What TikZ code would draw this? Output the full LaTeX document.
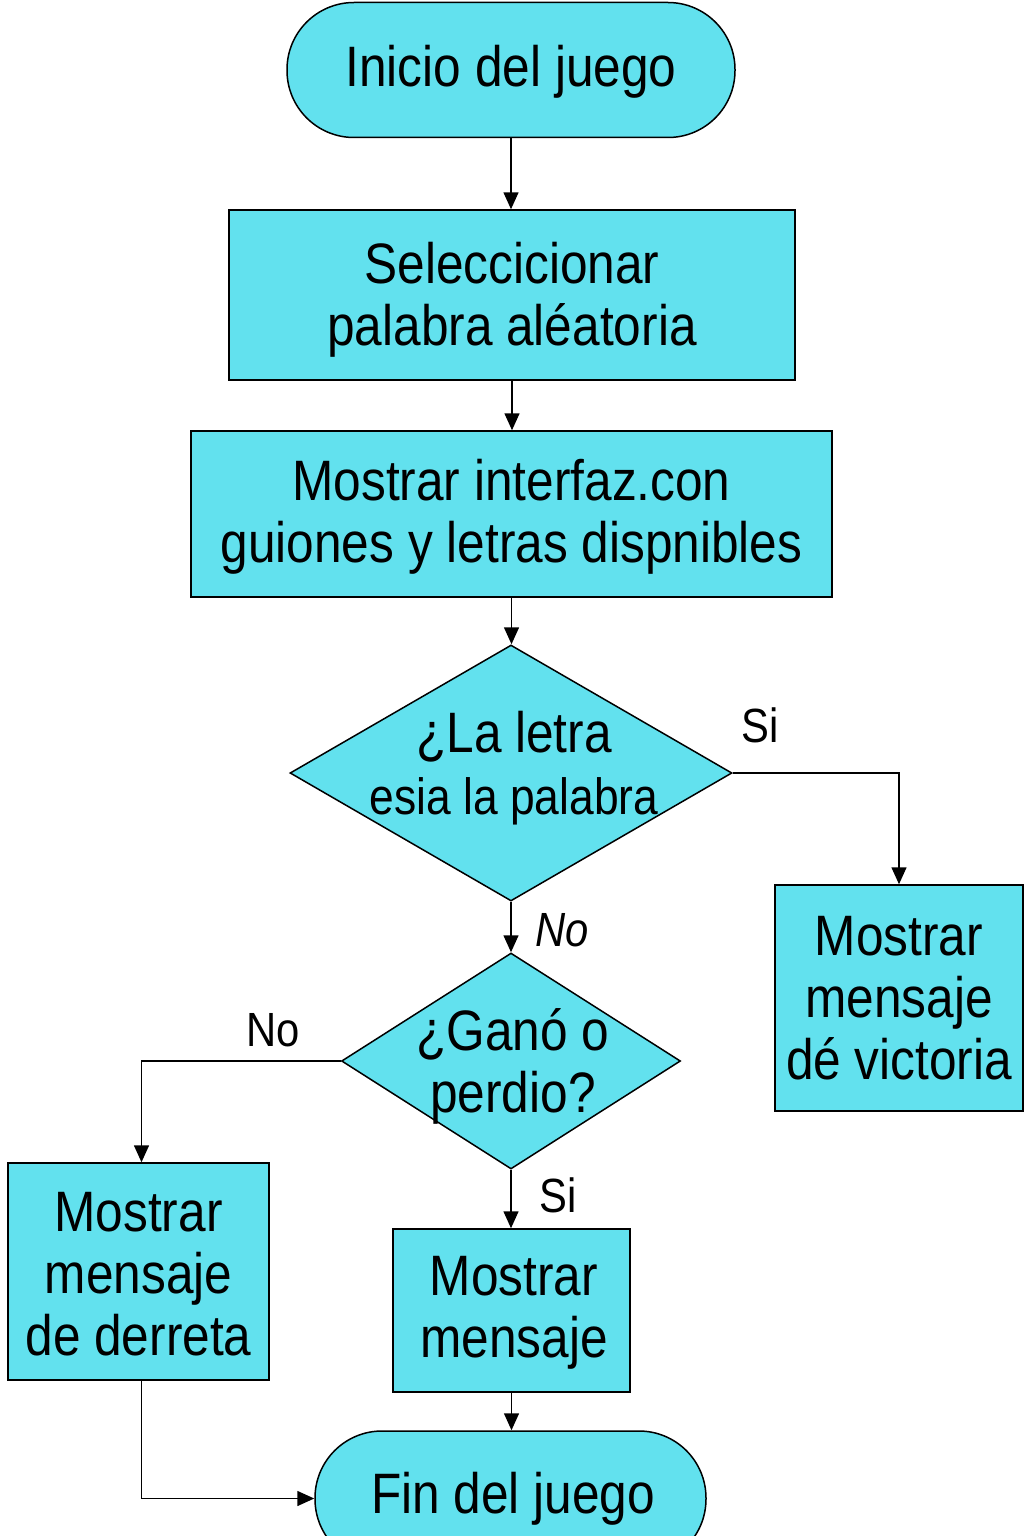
\documentclass[tikz,border=0pt]{standalone}
\usepackage{fontspec}
\setmainfont{Liberation Sans}[FakeStretch=0.87]
\usetikzlibrary{shapes.geometric,arrows.meta}
\definecolor{boxfill}{RGB}{98,225,238}
\begin{document}
\begin{tikzpicture}[x=1pt,y=-1pt,
  box/.style={draw=black, line width=1.5pt, fill=boxfill, inner sep=0pt, align=center, font=\fontsize{57}{62}\selectfont},
  dia/.style={draw=black, line width=1.5pt, fill=boxfill, diamond, inner sep=0pt},
  txt/.style={font=\fontsize{57}{62}\selectfont, align=center, inner sep=0pt},
  conn/.style={line width=1.5pt, -{Triangle[length=17pt,width=15pt]}},
  lab/.style={font=\fontsize{48}{52}\selectfont, inner sep=0pt}]
\useasboundingbox (0,0) rectangle (1024,1536);
\clip (0,0) rectangle (1024,1536);
\fill[white] (0,0) rectangle (1024,1536);

\node[box, rounded corners=67pt, minimum width=448pt, minimum height=135pt] (start) at (511,70) {};
\node[txt] (startt) at (511,72) {Inicio del juego};
\node[box, minimum width=566pt, minimum height=170pt] (box1) at (512,295) {};
\node[txt] (box1t) at (512,300) {Seleccicionar\\palabra aléatoria};
\node[box, minimum width=641pt, minimum height=166pt] (box2) at (511.5,514) {};
\node[txt] (box2t) at (511.5,517) {Mostrar interfaz.con\\guiones y letras dispnibles};
\node[dia, minimum width=442pt, minimum height=256pt] (d1) at (511,773) {};
\node[txt] (d1t) at (514,768) {¿La letra\\{\fontsize{51}{60}\selectfont esia la palabra}};
\node[box, minimum width=248pt, minimum height=226pt] (box3) at (899,998) {Mostrar\\mensaje\\dé victoria};
\node[dia, minimum width=339pt, minimum height=216pt] (d2) at (511,1061) {};
\node[txt] (d2t) at (513,1066) {¿Ganó o\\perdio?};
\node[box, minimum width=261pt, minimum height=217pt] (box4) at (138.5,1271.5) {};
\node[txt] (box4t) at (138.5,1274) {Mostrar\\mensaje\\de derreta};
\node[box, minimum width=237pt, minimum height=163pt] (box5) at (511.5,1310.5) {};
\node[txt] (box5t) at (514,1313) {Mostrar\\mensaje};
\node[box, rounded corners=67pt, minimum width=391pt, minimum height=135pt] (end) at (510.5,1498.5) {};
\node[txt] (endt) at (513,1499) {Fin del juego};

\draw[conn] (start.south) -- (start.south |- box1.north);
\draw[conn] (box1.south) -- (box1.south |- box2.north);
\draw[conn] (box2.south) -- (box2.south |- d1.north);
\draw[conn] (d1.east) -| (box3.north);
\draw[conn] (d1.south) -- (d1.south |- d2.north);
\draw[conn] (d2.west) -| ([xshift=3pt]box4.north);
\draw[conn] (d2.south) -- (d2.south |- box5.north);
\draw[conn] (box5.south) -- (box5.south |- end.north);
\draw[conn] ([xshift=3pt]box4.south) |- (end.west);

\node[lab] (l1) at (760,725) {Si};
\node[lab] (l2) at (562,930) {\itshape No};
\node[lab] (l3) at (273,1030) {No};
\node[lab] (l4) at (558,1195) {Si};
\end{tikzpicture}
\end{document}
